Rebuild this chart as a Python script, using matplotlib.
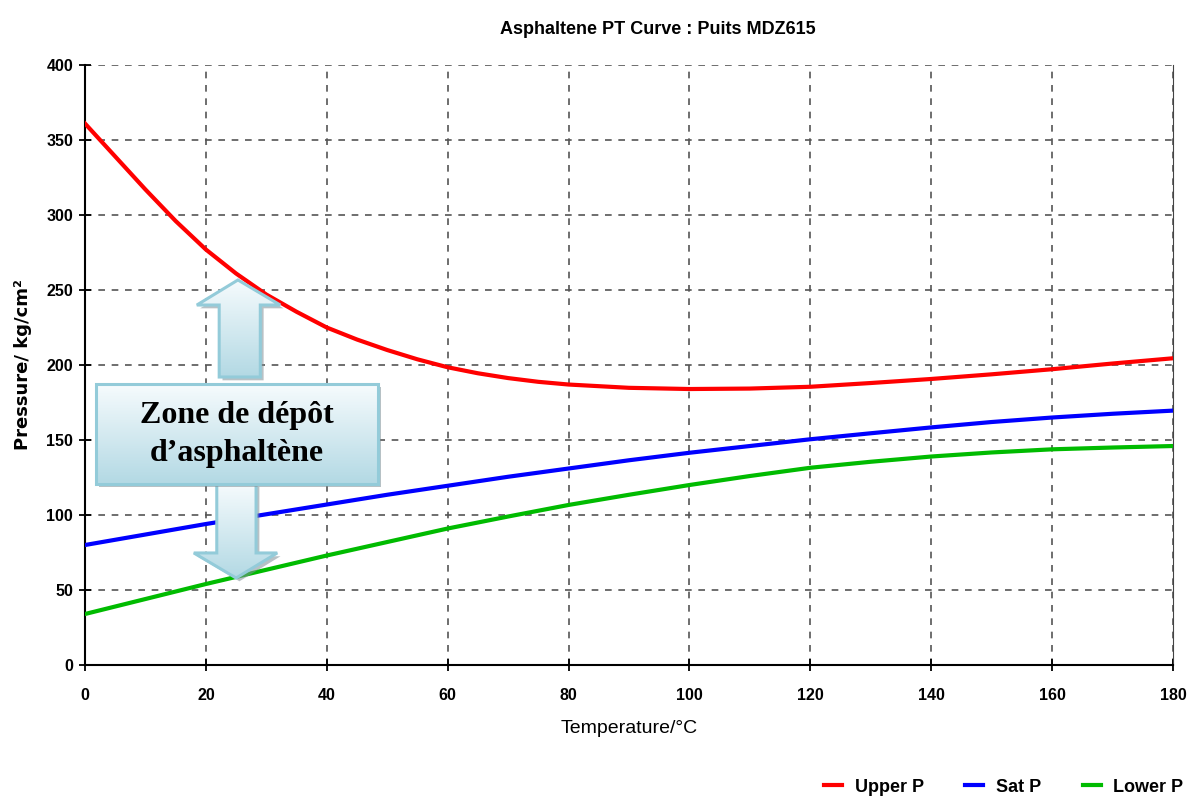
import numpy as np
import matplotlib
matplotlib.use('agg')
import matplotlib.pyplot as plt
from matplotlib.patches import Polygon
from matplotlib.colors import LinearSegmentedColormap

# values
temp_upper = [0, 5, 10, 15, 20, 25, 30, 35, 40, 45, 50, 55, 60, 65, 70, 75, 80, 90, 100,
              110, 120, 130, 140, 150, 160, 170, 180]
upper_p = [361, 339, 317, 296, 277, 261, 247, 235.5, 225, 217, 210, 203.8, 198.5, 194.5,
           191.3, 188.8, 187, 184.8, 184, 184.3, 185.5, 188, 190.7, 193.8, 197.2, 201, 204.5]

temp = [0, 10, 20, 30, 40, 50, 60, 70, 80, 90, 100, 110, 120, 130, 140, 150, 160, 170, 180]
sat_p = [80, 87, 94, 100.5, 107, 113.5, 119.5, 125.5, 131, 136.5, 141.5, 146, 150.5,
         154.5, 158.4, 162, 165, 167.5, 169.6]
lower_p = [34, 44, 54, 63.5, 73, 82, 91, 99, 106.7, 113.5, 120, 126, 131.5, 135.5,
           139, 141.7, 143.8, 145, 146]

series = [("Upper P", temp_upper, upper_p, "#ff0000"),
          ("Sat P", temp, sat_p, "#0000ff"),
          ("Lower P", temp, lower_p, "#00bb00")]

narrow = ['Liberation Sans Narrow', 'Liberation Sans', 'DejaVu Sans']

fig = plt.figure(figsize=(11.89, 7.99), dpi=100)
ax = fig.add_axes([0.0715, 0.1677, 0.915, 0.7509])

for name, x, y, c in series:
    ax.plot(x, y, color=c, lw=3, label=name, zorder=3)

ax.set_xlim(0, 180)
ax.set_ylim(0, 400)
ax.set_xticks(np.arange(0, 181, 20))
ax.set_yticks(np.arange(0, 401, 50))
ax.grid(True, color='#555555', ls=(0, (4, 4)), lw=1.2)
ax.tick_params(direction='inout', length=9, width=1.3, labelsize=11.5)
ax.tick_params(axis='x', pad=12)
ax.tick_params(axis='y', pad=4)
for lab in ax.get_xticklabels() + ax.get_yticklabels():
    lab.set_family(narrow)
    lab.set_weight('bold')
ax.spines['top'].set_visible(False)
ax.spines['right'].set_color('#444444')
ax.spines['left'].set_linewidth(1.5)
ax.spines['bottom'].set_linewidth(1.5)

ax.set_xlabel("Temperature/°C", family=narrow, fontsize=14, labelpad=12)
ax.set_ylabel("Pressure/ kg/cm²", family=['DejaVu Sans'],
              fontsize=13, fontweight='bold', labelpad=10)
fig.text(0.553, 0.963, "Asphaltene PT Curve : Puits MDZ615", ha='center', va='center',
         family=narrow, fontsize=13, fontweight='bold')

leg = fig.legend(loc='center right', bbox_to_anchor=(1.009, 0.015), ncol=3, frameon=False,
                 handlelength=1.0, columnspacing=2.3, handletextpad=0.7,
                 prop={'family': narrow, 'size': 13, 'weight': 'bold'})

# annotation: shaded box with two arrows
cmap = LinearSegmentedColormap.from_list('bx', ['#b3d9e4', '#f6fbfd'])


def shape(pts, zo):
    sh = Polygon([(px + 0.55, py - 2.2) for px, py in pts], closed=True,
                 facecolor='#7f8f96', edgecolor='none', alpha=0.55, zorder=zo - 0.2)
    ax.add_patch(sh)
    poly = Polygon(pts, closed=True, facecolor='none', edgecolor='#93cbd9', lw=2.2, zorder=zo + 0.1)
    ax.add_patch(poly)
    xs = [p[0] for p in pts]
    ys = [p[1] for p in pts]
    grad = np.linspace(0, 1, 100).reshape(-1, 1)
    im = ax.imshow(grad, cmap=cmap, aspect='auto', origin='lower',
                   extent=[min(xs), max(xs), min(ys), max(ys)], zorder=zo)
    im.set_clip_path(poly)


up_arrow = [(25.3, 256.7), (32.3, 240), (29.0, 240), (29.0, 192), (22.2, 192),
            (22.2, 240), (18.5, 240)]
down_arrow = [(21.8, 121), (28.3, 121), (28.3, 74.7), (31.8, 74.7), (25.0, 58),
              (18.0, 74.7), (21.8, 74.7)]
box = [(1.8, 187.3), (48.5, 187.3), (48.5, 120.7), (1.8, 120.7)]

shape(up_arrow, 4)
shape(down_arrow, 4)
shape(box, 5)
ax.set_xlim(0, 180)
ax.set_ylim(0, 400)

ax.text(25.1, 153.5, "Zone de dépôt\nd’asphaltène", ha='center', va='center',
        family=['Liberation Serif', 'DejaVu Serif'], fontsize=23, fontweight='bold',
        linespacing=1.4, zorder=6)

fig.savefig('out.png', dpi=100)
